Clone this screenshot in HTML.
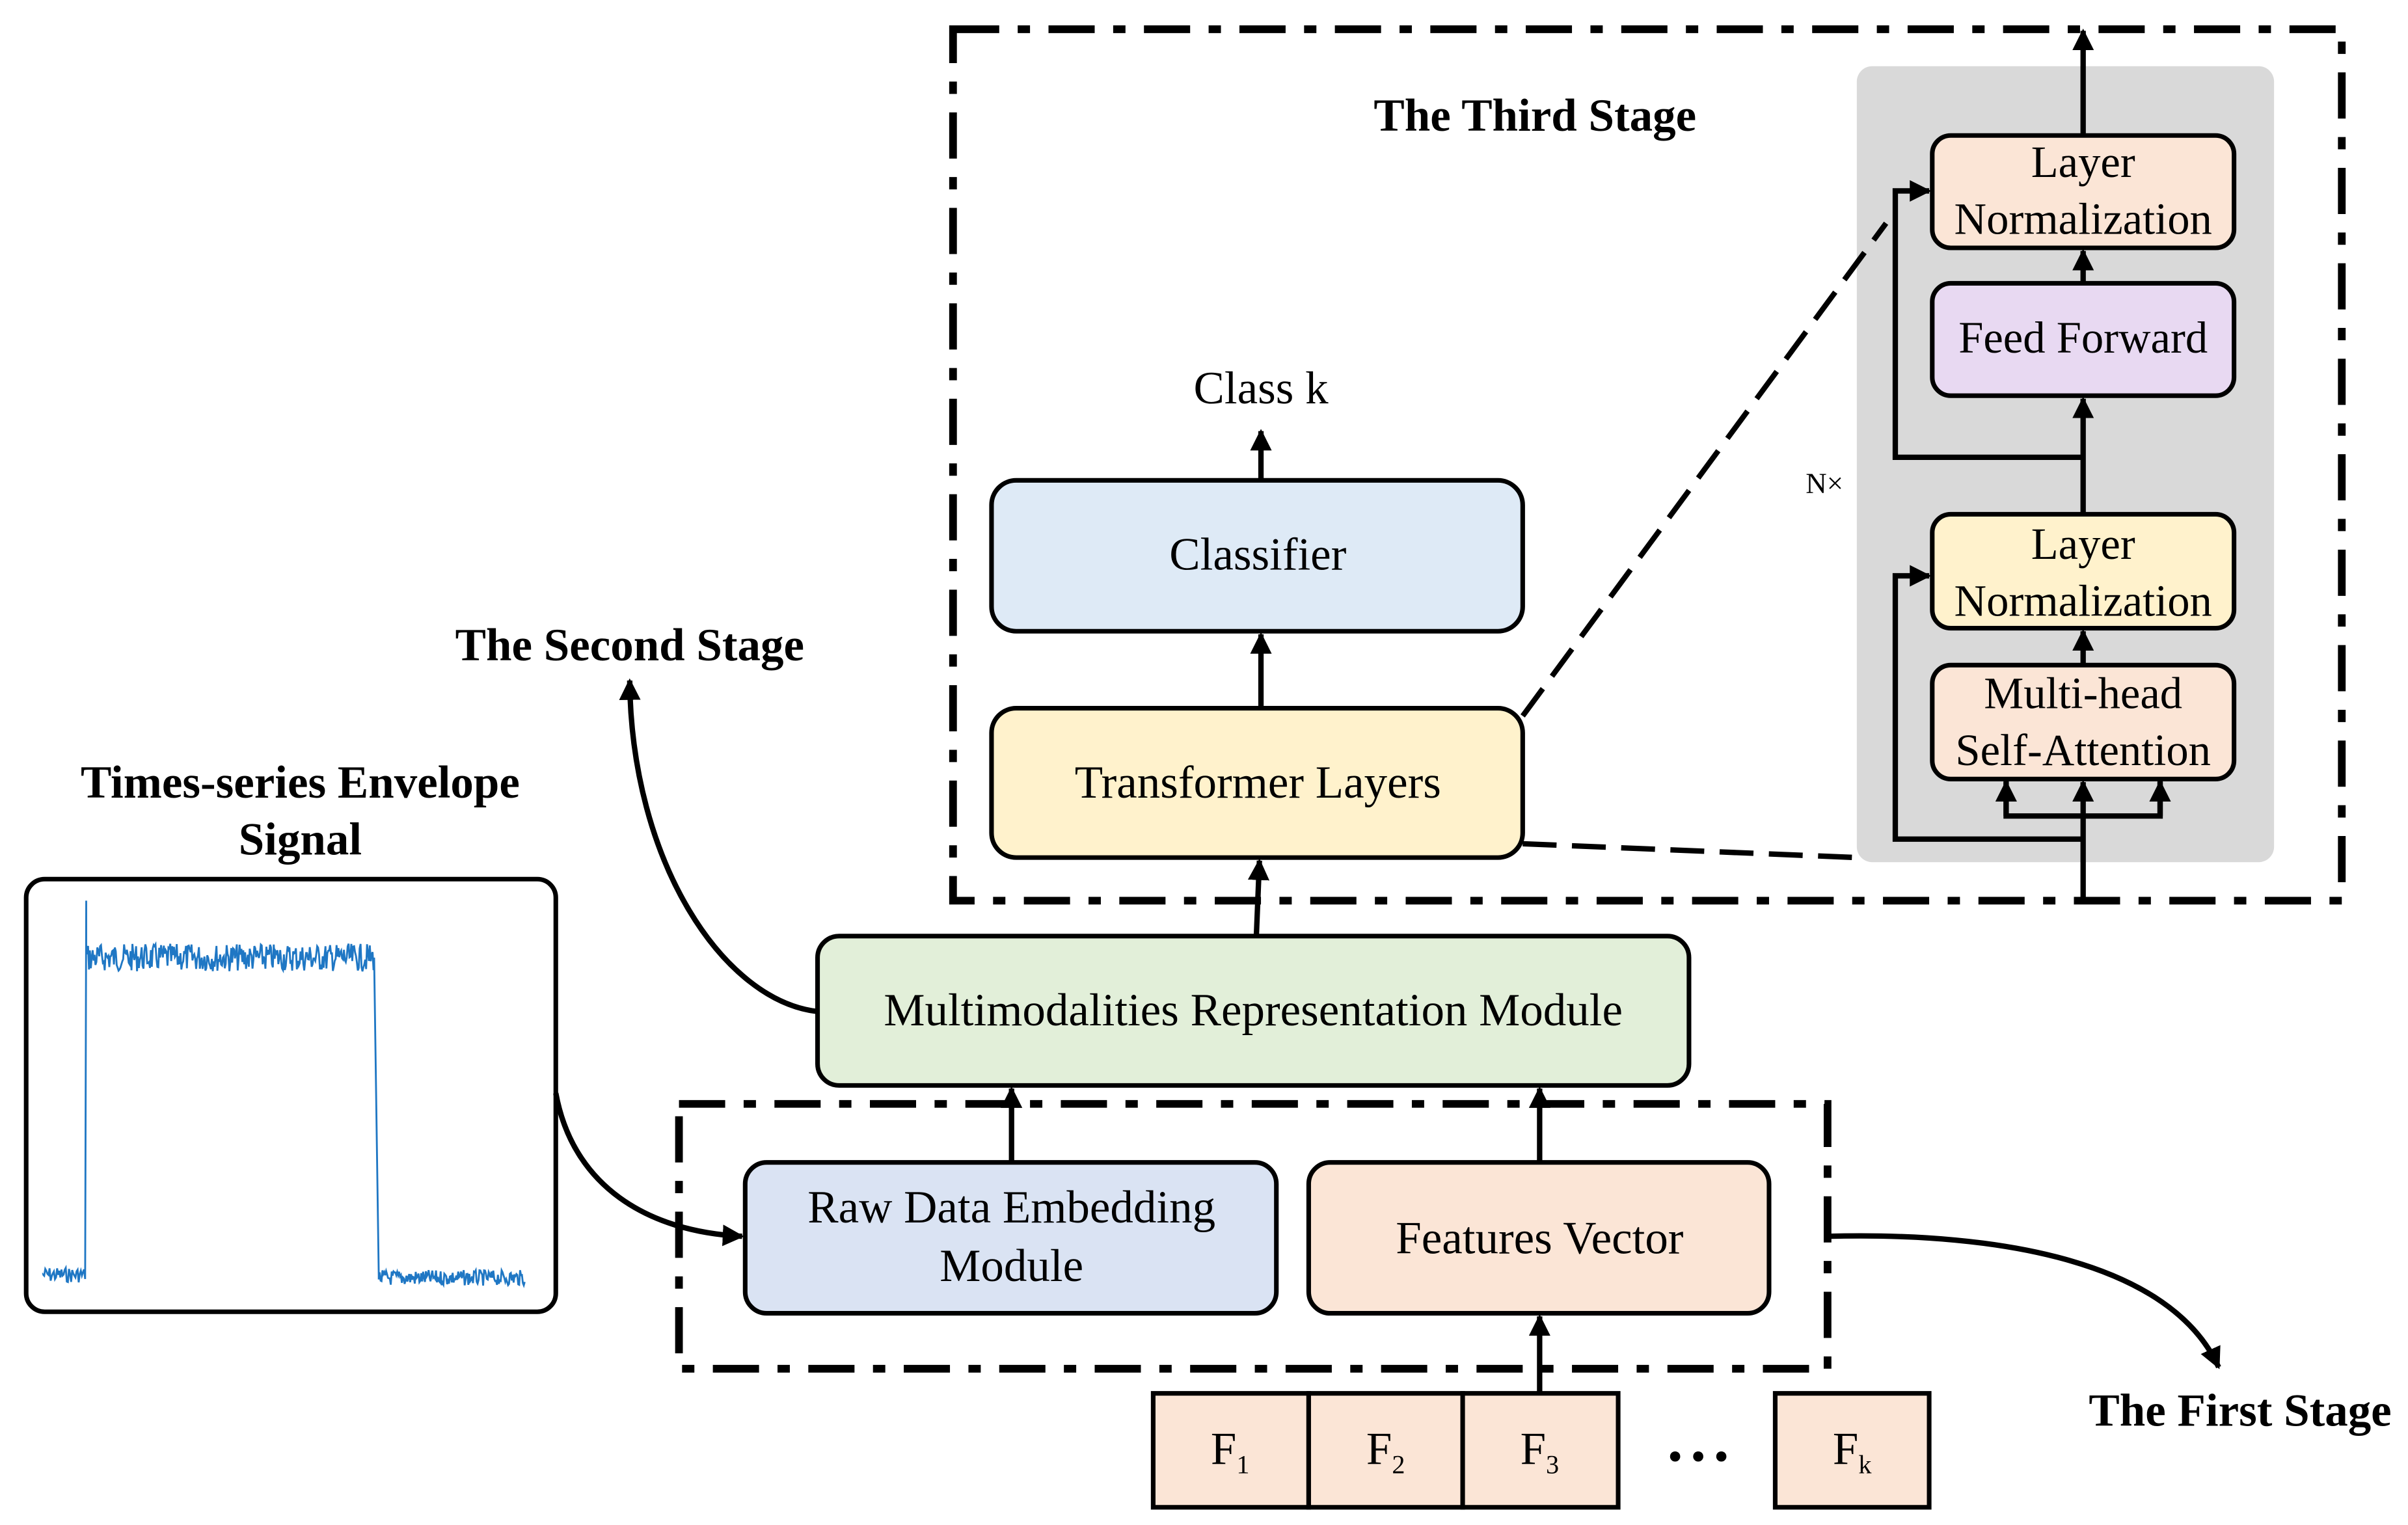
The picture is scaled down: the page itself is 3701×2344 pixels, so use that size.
<!DOCTYPE html>
<html><head><meta charset="utf-8"><style>
html,body{margin:0;padding:0;background:#fff;}
svg{display:block;}
</style></head><body>
<svg width="3701" height="2344" viewBox="0 0 1564 990.5" preserveAspectRatio="none" xmlns="http://www.w3.org/2000/svg" font-family="'Liberation Serif', 'Times New Roman', serif">
<defs>
<marker id="a" viewBox="0 0 10 10" refX="9" refY="5" markerWidth="14" markerHeight="14" markerUnits="userSpaceOnUse" orient="auto"><path d="M0,0 L10,5 L0,10 z" fill="#000"/></marker>
</defs>
<g fill="none" stroke="#000" stroke-width="5" stroke-dasharray="30,12,8,12">
<rect x="619" y="19" width="902" height="566"/>
<rect x="441" y="717" width="746" height="172"/>
</g>
<text x="997" y="85" font-size="30" text-anchor="middle" font-weight="bold">The Third Stage</text>
<rect x="1206" y="43" width="271" height="517" rx="10" fill="#d9d9d9"/>
<g stroke="#000" stroke-width="3">
<rect x="1255" y="88" width="196" height="73" rx="12" fill="#fbe5d6"/>
<rect x="1255" y="184" width="196" height="73" rx="12" fill="#e8d9f2"/>
<rect x="1255" y="334" width="196" height="74" rx="12" fill="#fff2cc"/>
<rect x="1255" y="432" width="196" height="74" rx="12" fill="#fbe5d6"/>
<rect x="644" y="312" width="345" height="98" rx="16" fill="#deeaf6"/>
<rect x="644" y="460" width="345" height="97" rx="16" fill="#fff2cc"/>
<rect x="531" y="608" width="566" height="97" rx="14" fill="#e2efd9"/>
<rect x="484" y="755" width="345" height="98" rx="14" fill="#dae3f3"/>
<rect x="850" y="755" width="299" height="98" rx="14" fill="#fbe5d6"/>
<rect x="17" y="571" width="344" height="281" rx="12" fill="#fff"/>
<rect x="749" y="905" width="101" height="74" fill="#fbe5d6"/>
<rect x="850" y="905" width="100" height="74" fill="#fbe5d6"/>
<rect x="950" y="905" width="101" height="74" fill="#fbe5d6"/>
<rect x="1153" y="905" width="100" height="74" fill="#fbe5d6"/>
</g>
<g font-size="30" text-anchor="middle">
<text x="1353" y="115" font-size="29">Layer</text><text x="1353" y="152" font-size="29">Normalization</text>
<text x="1353" y="229" font-size="29">Feed Forward</text>
<text x="1353" y="363" font-size="29">Layer</text><text x="1353" y="400" font-size="29">Normalization</text>
<text x="1353" y="460" font-size="29">Multi-head</text><text x="1353" y="497" font-size="29">Self-Attention</text>
<text x="819" y="262">Class k</text>
<text x="817" y="370">Classifier</text>
<text x="817" y="518">Transformer Layers</text>
<text x="814" y="666">Multimodalities Representation Module</text>
<text x="657" y="794">Raw Data Embedding</text><text x="657" y="832">Module</text>
<text x="1000" y="814">Features Vector</text>
<text x="799" y="951">F<tspan font-size="17" dy="6">1</tspan></text>
<text x="900" y="951">F<tspan font-size="17" dy="6">2</tspan></text>
<text x="1000" y="951">F<tspan font-size="17" dy="6">3</tspan></text>
<text x="1203" y="951">F<tspan font-size="17" dy="6">k</tspan></text>
</g>
<g fill="#000"><circle cx="1088" cy="946" r="3.3"/><circle cx="1103" cy="946" r="3.3"/><circle cx="1118" cy="946" r="3.3"/></g>
<text x="1185" y="320" font-size="19" text-anchor="middle">N×</text>
<g font-weight="bold" font-size="30" text-anchor="middle">
<text x="409" y="429">The Second Stage</text>
<text x="195" y="518">Times-series Envelope</text>
<text x="195" y="555">Signal</text>
<text x="1455" y="926">The First Stage</text>
</g>
<g fill="none" stroke="#000" stroke-width="3.5">
<line x1="1353" y1="585" x2="1353" y2="508" marker-end="url(#a)"/>
<line x1="1353" y1="88" x2="1353" y2="20" marker-end="url(#a)"/>
<polyline points="1353,545 1231,545 1231,374 1253,374" marker-end="url(#a)"/>
<polyline points="1353,297 1231,297 1231,124 1253,124" marker-end="url(#a)"/>
<polyline points="1303,506 1303,530 1403,530 1403,506"/>
<line x1="1303" y1="530" x2="1303" y2="508" marker-end="url(#a)"/>
<line x1="1403" y1="530" x2="1403" y2="508" marker-end="url(#a)"/>
<line x1="1353" y1="334" x2="1353" y2="259" marker-end="url(#a)"/>
<line x1="1353" y1="184" x2="1353" y2="163" marker-end="url(#a)"/>
<line x1="1353" y1="432" x2="1353" y2="410" marker-end="url(#a)"/>
<line x1="819" y1="312" x2="819" y2="280" marker-end="url(#a)"/>
<line x1="819" y1="460" x2="819" y2="412" marker-end="url(#a)"/>
<line x1="816" y1="608" x2="818" y2="559" marker-end="url(#a)"/>
<line x1="657" y1="755" x2="657" y2="707" marker-end="url(#a)"/>
<line x1="1000" y1="755" x2="1000" y2="707" marker-end="url(#a)"/>
<line x1="1000" y1="905" x2="1000" y2="855" marker-end="url(#a)"/>
<path d="M531,657 C470,650 410,560 409,442" marker-end="url(#a)"/>
<path d="M361,710 C372,770 420,800 482,803" marker-end="url(#a)"/>
<path d="M1187,803 C1300,800 1410,820 1441,888" marker-end="url(#a)"/>
<line x1="989" y1="465" x2="1225" y2="145" stroke-dasharray="22,10"/>
<line x1="989" y1="548" x2="1206" y2="557" stroke-dasharray="22,10"/>
</g>
<path id="sig" fill="none" stroke="#1f77c4" stroke-width="1.2" d=""/>
<script>
(function(){var d="M28,828";var s=7;function r(){s=(s*9301+49297)%233280;return s/233280-0.5;}
for(var x=28;x<56;x+=0.7)d+=" L"+x.toFixed(1)+","+(828+r()*10).toFixed(1);
d+=" L56,585";
for(var x=56;x<243;x+=0.6)d+=" L"+x.toFixed(1)+","+(622+r()*18).toFixed(1);
d+=" L243,622 L246,828";
for(var x=246;x<341;x+=0.6)d+=" L"+x.toFixed(1)+","+(830+r()*10).toFixed(1);
document.getElementById("sig").setAttribute("d",d);})();
</script>
</svg>
</body></html>
